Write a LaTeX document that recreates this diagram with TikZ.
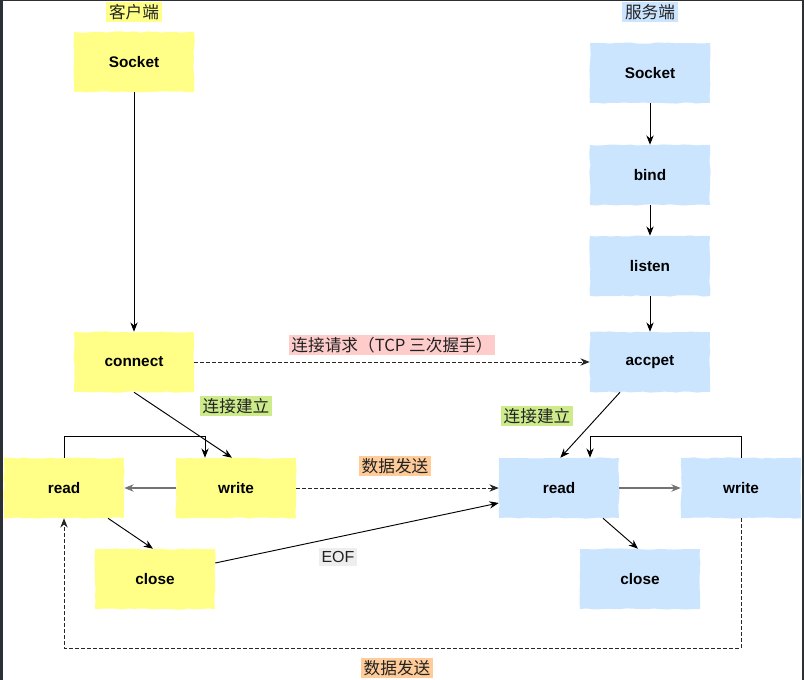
\documentclass[tikz,border=0pt]{standalone}
\usepackage{fontspec}
\setmainfont{Liberation Sans}
\newfontfamily\cjk{Noto Sans CJK SC}
\usetikzlibrary{arrows.meta,decorations.pathmorphing}
\definecolor{cyel}{HTML}{FFFF88}
\definecolor{cblu}{HTML}{CCE5FF}
\definecolor{cpink}{HTML}{FFCCCC}
\definecolor{cgrn}{HTML}{CDEB8B}
\definecolor{corg}{HTML}{FFCC99}
\definecolor{cgry}{HTML}{EEEEEE}
\definecolor{frame}{HTML}{2B3035}
\definecolor{ltxt}{HTML}{222222}
\begin{document}
\pgfmathsetseed{7}
\begin{tikzpicture}[x=0.75pt,y=-0.75pt,
  box/.style={inner sep=0pt,minimum width=90pt,minimum height=45pt,font=\bfseries\fontsize{11.5}{13}\selectfont,
    decorate,decoration={random steps,segment length=5pt,amplitude=0.5pt}},
  cbox/.style={box,fill=cyel},
  sbox/.style={box,fill=cblu},
  lab/.style={font=\cjk\fontsize{12.5}{14}\selectfont,text=ltxt,inner xsep=2pt,inner ysep=1.5pt},
  arr/.style={-{Stealth[length=7pt,width=5.5pt]},line width=0.7pt},
  garr/.style={arr,draw=black!55,line width=1.1pt},
  darr/.style={arr,dashed,dash pattern=on 2.5pt off 2pt,draw=black!85}]
\useasboundingbox (0,0) rectangle (804,680);
\fill[white] (0,0) rectangle (804,680);
\fill[frame] (0,0) rectangle (804,1.5);
\fill[frame] (0,0) rectangle (2.5,680);
\fill[frame] (801.5,0) rectangle (804,680);

\node[lab,fill=cyel] (ct) at (134,12) {客户端};
\node[lab,fill=cblu] (st) at (650,12) {服务端};

\node[cbox] (csock) at (134,62) {Socket};
\node[cbox] (conn) at (134,362) {connect};
\node[cbox] (cread) at (64,488) {read};
\node[cbox] (cwrite) at (236,488) {write};
\node[cbox] (cclose) at (155,579) {close};

\node[sbox] (ssock) at (650,73) {Socket};
\node[sbox] (bind) at (650,175) {bind};
\node[sbox] (listen) at (650,266) {listen};
\node[sbox] (acc) at (650,362) {accpet};
\node[sbox] (sread) at (559,488) {read};
\node[sbox] (swrite) at (741,488) {write};
\node[sbox] (sclose) at (640,579) {close};

\draw[arr] (csock) -- (conn);
\draw[arr] (ssock) -- (bind);
\draw[arr] (bind) -- (listen);
\draw[arr] (listen) -- (acc);
\draw[darr] (conn) -- (acc);
\node[lab,fill=cpink] (l1) at (392,345) {连接请求（TCP 三次握手）};

\draw[arr] (conn.south) -- ([xshift=-3pt]cwrite.north);
\node[lab,fill=cgrn] (l2) at (236,406) {连接建立};
\coordinate (c2) at ([xshift=-23.25pt]cwrite.north);
\draw[arr] (cread.north) |- ++(0,-21) -| (c2);
\draw[garr] (cwrite) -- (cread);
\draw[darr] (cwrite) -- (sread);
\node[lab,fill=corg] (l3) at (395,466) {数据发送};
\draw[arr] ([xshift=33pt]cread.south) -- ([xshift=-1.5pt]cclose.north);
\draw[arr] ([yshift=12pt]cclose.east) -- ([yshift=-11.25pt]sread.west);
\node[lab,fill=cgry,font=\fontsize{12}{14}\selectfont,inner ysep=2.5pt] (eof) at (338,557) {EOF};

\draw[arr] ([xshift=-22.5pt]acc.south) -- ([xshift=1pt]sread.north);
\node[lab,fill=cgrn] (l4) at (537,416) {连接建立};
\coordinate (c3) at ([xshift=23.25pt]sread.north);
\draw[arr] (swrite.north) |- ++(0,-21) -| (c3);
\draw[garr] (sread) -- (swrite);
\draw[arr] ([xshift=33pt]sread.south) -- ([xshift=-1.5pt]sclose.north);

\draw[darr] (swrite.south) |- (64,648) -- (cread.south);
\node[lab,fill=corg] (l5) at (397,668) {数据发送};
\end{tikzpicture}
\end{document}
